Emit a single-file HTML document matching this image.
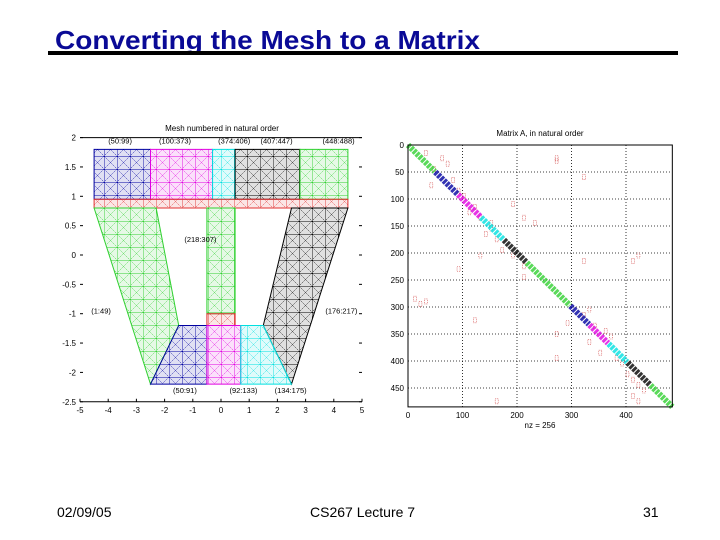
<!DOCTYPE html>
<html><head><meta charset="utf-8"><style>
body{margin:0;background:#fff;}
svg{display:block;font-family:"Liberation Sans",sans-serif;}
</style></head><body>
<svg id="s" width="720" height="540" viewBox="0 0 720 540" xmlns="http://www.w3.org/2000/svg">
<defs id="defs"></defs>
<text x="55" y="49" font-size="26" font-weight="bold" fill="#0a0a96" textLength="425" lengthAdjust="spacingAndGlyphs">Converting the Mesh to a Matrix</text>
<rect x="48" y="51" width="630" height="4" fill="#000"/>
<g id="left"></g>
<g id="right"></g>
<text x="57" y="517" font-size="14">02/09/05</text>
<text x="310" y="517" font-size="14">CS267 Lecture 7</text>
<text x="643" y="517" font-size="14">31</text>
</svg>
<script>
// ---- mesh data (x,y in plot units) ----
const meshNames=['top-blue','top-magenta','top-cyan','top-black','top-green','top-red-strip','stem-green','stem-red','left-leg','right-leg','bottom-blue','bottom-magenta','bottom-cyan'];
const meshColors=['#0000a0','#e000e0','#00e0e0','#000000','#30d030','#e03030','#30d030','#e03030','#30d030','#000000','#0000a0','#e000e0','#00e0e0'];
const meshPolys=[
 [[-4.5,1.8],[-2.5,1.8],[-2.5,0.95],[-4.5,0.95]],
 [[-2.5,1.8],[-0.3,1.8],[-0.3,0.95],[-2.5,0.95]],
 [[-0.3,1.8],[0.5,1.8],[0.5,0.95],[-0.3,0.95]],
 [[0.5,1.8],[2.8,1.8],[2.8,0.95],[0.5,0.95]],
 [[2.8,1.8],[4.5,1.8],[4.5,0.95],[2.8,0.95]],
 [[-4.5,0.95],[4.5,0.95],[4.5,0.8],[-4.5,0.8]],
 [[-0.5,0.8],[0.5,0.8],[0.5,-1.0],[-0.5,-1.0]],
 [[-0.5,-1.0],[0.5,-1.0],[0.5,-1.2],[-0.5,-1.2]],
 [[-4.5,0.8],[-2.3,0.8],[-1.5,-1.2],[-2.5,-2.2]],
 [[2.5,0.8],[4.5,0.8],[2.5,-2.2],[1.5,-1.2]],
 [[-1.5,-1.2],[-0.5,-1.2],[-0.5,-2.2],[-2.5,-2.2]],
 [[-0.5,-1.2],[0.7,-1.2],[0.7,-2.2],[-0.5,-2.2]],
 [[0.7,-1.2],[1.5,-1.2],[2.5,-2.2],[0.7,-2.2]]];
const meshLabels=['(50:99)','(100:373)','(374:406)','(407:447)','(448:488)','(218:307)','(1:49)','(176:217)','(50:91)','(92:133)','(134:175)'];
const meshLabelPos=[[-4.0,1.9],[-2.2,1.9],[-0.1,1.9],[1.4,1.9],[3.6,1.9],[-1.3,0.22],[-4.6,-1.0],[3.7,-1.0],[-1.7,-2.35],[0.3,-2.35],[1.9,-2.35]];
const meshXTicks=[-5,-4,-3,-2,-1,0,1,2,3,4,5];
const meshXTickLabels=['-5','-4','-3','-2','-1','0','1','2','3','4','5'];
const meshYTicks=[2,1.5,1,0.5,0,-0.5,-1,-1.5,-2,-2.5];
const meshYTickLabels=['2','1.5','1','0.5','0','-0.5','-1','-1.5','-2','-2.5'];
// ---- spy data ----
const blockStart=[0,50,92,134,176,218,298,333,368,403,445];
const blockEnd=[49,91,133,175,217,297,332,367,402,444,485];
const blockColors=['#30d030','#0000a0','#e000e0','#00e0e0','#000','#30d030','#0000a0','#e000e0','#00e0e0','#000','#30d030'];
const offRows=[10,20,30,40,60,70,80,90,110,120,130,140,150,160,170,190,200,210,220,240,280,290,300,310,330,340,350,360,380,390,400,420,430,440,450,460,470,20,25,55,200,210,225,320,345,390,470,105,130,140,200,285,325];
const offCols=[30,60,70,45,80,40,90,100,120,110,130,150,150,140,160,170,190,320,210,210,10,20,330,320,340,360,370,330,350,380,390,400,410,420,430,410,420,270,270,320,420,410,90,120,270,270,160,190,210,230,130,30,290];
const spyXTicks=[0,100,200,300,400];
const spyYTicks=[0,50,100,150,200,250,300,350,400,450];

const NS='http://www.w3.org/2000/svg';
function mk(tag,attrs,parent){const e=document.createElementNS(NS,tag);for(const k in attrs)e.setAttribute(k,attrs[k]);parent.appendChild(e);return e;}
const defs=document.getElementById('defs');
const mx=v=>221+v*28.2, my=v=>255-v*58.7;
const L=document.getElementById('left');
const t1=mk('text',{x:222,y:131,'font-size':8,'text-anchor':'middle'},L);t1.textContent='Mesh numbered in natural order';


meshPolys.forEach((p,i)=>{
  const id='pat'+i;
  const pat=mk('pattern',{id:id,width:13,height:13,patternUnits:'userSpaceOnUse'},defs);
  mk('rect',{width:13,height:13,fill:meshColors[i],'fill-opacity':0.12},pat);
  mk('path',{d:'M0 0H13M0 0V13',stroke:meshColors[i],'stroke-width':0.9,fill:'none'},pat);
  mk('path',{d:'M0 0L13 13M13 0L0 13',stroke:meshColors[i],'stroke-width':0.5,'stroke-dasharray':'2,1',fill:'none'},pat);
  const poly=mk('polygon',{points:p.map(q=>mx(q[0])+','+my(q[1])).join(' '),fill:'url(#'+id+')',stroke:meshColors[i],'stroke-width':1},L);
  
  
});
meshLabels.forEach((s,i)=>{const t=mk('text',{x:mx(meshLabelPos[i][0]),y:my(meshLabelPos[i][1]),'font-size':7.5,fill:'#000'},L);t.textContent=s;
 
 });
const ab=mk('path',{d:`M${mx(-5)} ${my(2)}H${mx(5)}M${mx(-5)} ${my(-2.5)}H${mx(5)}`,stroke:'#000','stroke-width':1,fill:'none'},L);


meshXTicks.forEach((v,i)=>{mk('line',{x1:mx(v),x2:mx(v),y1:my(-2.5),y2:my(-2.5)-3,stroke:'#000'},L);
 const t=mk('text',{x:mx(v),y:413,'font-size':8,'text-anchor':'middle'},L);t.textContent=meshXTickLabels[i];
 
 });
meshYTicks.forEach((v,i)=>{mk('line',{x1:mx(-5),x2:mx(-5)+3,y1:my(v),y2:my(v),stroke:'#000'},L);
 mk('line',{x1:mx(5),x2:mx(5)-3,y1:my(v),y2:my(v),stroke:'#000'},L);
 const t=mk('text',{x:mx(-5)-4,y:my(v)+3,'font-size':8,'text-anchor':'end'},L);t.textContent=meshYTickLabels[i];
 
 });
const sx=v=>408+v*0.545, sy=v=>145+v*0.54;
const R=document.getElementById('right');
const t2=mk('text',{x:540,y:136,'font-size':8,'text-anchor':'middle'},R);t2.textContent='Matrix A, in natural order';


spyXTicks.forEach(v=>{if(v>0)mk('line',{x1:sx(v),x2:sx(v),y1:sy(0),y2:sy(485),stroke:'#000','stroke-dasharray':'1,2','stroke-width':0.8},R);
 const t=mk('text',{x:sx(v),y:418,'font-size':8,'text-anchor':'middle'},R);t.textContent=String(v);
 
 });
spyYTicks.forEach(v=>{if(v>0)mk('line',{x1:sx(0),x2:sx(485),y1:sy(v),y2:sy(v),stroke:'#000','stroke-dasharray':'1,2','stroke-width':0.8},R);
 const t=mk('text',{x:sx(0)-4,y:sy(v)+3,'font-size':8,'text-anchor':'end'},R);t.textContent=String(v);
 
 });
offRows.forEach((r,i)=>{const c=mk('rect',{x:sx(offCols[i]),y:sy(r),width:3,height:5,fill:'none',stroke:'#d04040','stroke-width':0.6,'stroke-dasharray':'1,1'},R);
 
 });
blockStart.forEach((s,i)=>{const e=blockEnd[i];
 const l=mk('line',{x1:sx(s),y1:sy(s),x2:sx(e),y2:sy(e),stroke:blockColors[i],'stroke-width':6,'stroke-opacity':0.8,'stroke-dasharray':'3,1'},R);
 
 });
const fr=mk('rect',{x:sx(0),y:sy(0),width:sx(485)-sx(0),height:sy(485)-sy(0),fill:'none',stroke:'#000','stroke-width':1},R);


const xl=mk('text',{x:540,y:428,'font-size':8,'text-anchor':'middle'},R);xl.textContent='nz = 256';


</script>
</body></html>
